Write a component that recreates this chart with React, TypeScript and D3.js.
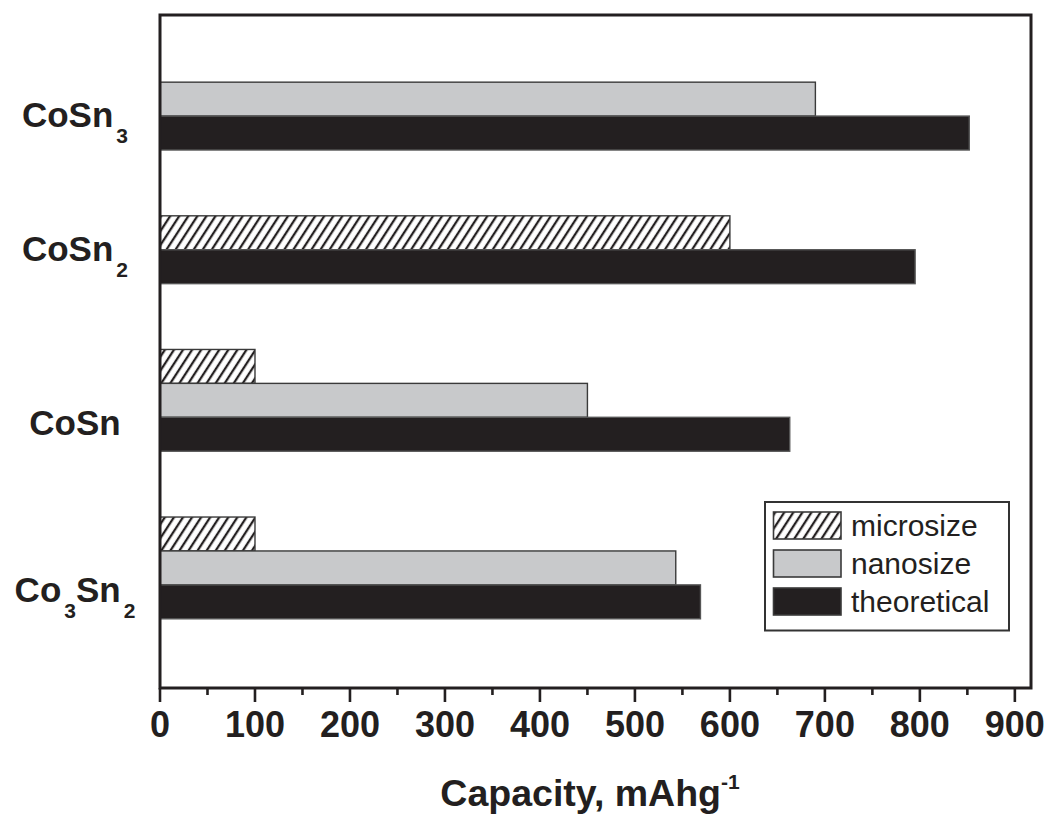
import * as React from 'react';
import * as d3 from 'd3';

const categories = ['CoSn3', 'CoSn2', 'CoSn', 'Co3Sn2'];
const seriesNames = ['microsize', 'nanosize', 'theoretical'];
const microsize = [null, 600, 100, 100];
const nanosize = [690, null, 450, 543];
const theoretical = [852, 795, 663, 569];
const xTicks = [0, 100, 200, 300, 400, 500, 600, 700, 800, 900];

const W = 1052;
const H = 816;
const margin = { left: 160, right: 1031, top: 15, bottom: 688 };
const ink = '#231f20';
const font = 'Liberation Sans, Arial, Helvetica, sans-serif';

// split a formula like Co3Sn2 into text runs, digits become subscripts
const formulaParts = (s) => s.match(/[A-Za-z]+|\d+/g).map((p) => ({ text: p, sub: /\d/.test(p) }));

const App = () => {
  const values = [microsize, nanosize, theoretical];
  const fills = ['url(#hatch)', '#c8c9cb', ink];

  const x = d3.scaleLinear().domain([0, 917]).range([margin.left, margin.right]);

  // layout in bar units: each bar is 1 unit, groups are separated by a gap
  const padTop = 1.98;
  const gap = 1.94;
  const padBottom = 2.04;
  let cursor = padTop;
  const bars = [];
  const labelPos = [];
  categories.forEach((c, ci) => {
    const present = seriesNames.map((s, si) => si).filter((si) => values[si][ci] != null);
    present.forEach((si) => {
      bars.push({ cat: c, si, value: values[si][ci], u: cursor });
      cursor += 1;
    });
    labelPos.push({ cat: c, u: cursor - 1 + (present.length > 2 ? 0.15 : -0.05) });
    if (ci < categories.length - 1) cursor += gap;
  });
  const total = cursor + padBottom;
  const y = d3.scaleLinear().domain([0, total]).range([margin.top, margin.bottom]);
  const bh = y(1) - y(0);

  const minor = d3.range(50, 917, 100);

  return (
    <svg width={W} height={H} style={{ position: 'absolute', left: 0, top: 0, background: '#fff' }}>
      <defs>
        <pattern id='hatch' patternUnits='userSpaceOnUse' width={7.6} height={7.6} patternTransform='rotate(33)'>
          <rect width={7.6} height={7.6} fill='#fff' />
          <line x1={2} y1={0} x2={2} y2={7.6} stroke={ink} strokeWidth={2.3} />
        </pattern>
      </defs>

      {bars.map((b, i) => (
        <rect
          key={i}
          x={x(0)}
          y={y(b.u)}
          width={x(b.value) - x(0)}
          height={bh}
          fill={fills[b.si]}
          stroke={b.si === 2 ? '#555' : '#3a3a3a'}
          strokeWidth={1.4}
        />
      ))}

      {/* frame */}
      <rect
        x={margin.left}
        y={margin.top}
        width={margin.right - margin.left}
        height={margin.bottom - margin.top}
        fill='none'
        stroke={ink}
        strokeWidth={3}
      />

      {/* x ticks */}
      {xTicks.map((t) => (
        <g key={t}>
          <line x1={x(t)} x2={x(t)} y1={margin.bottom} y2={margin.bottom + 14} stroke={ink} strokeWidth={2.6} />
          <text x={x(t)} y={737} textAnchor='middle' fontFamily={font} fontWeight='bold' fontSize={36} fill={ink}>
            {t}
          </text>
        </g>
      ))}
      {minor.map((t) => (
        <line key={t} x1={x(t)} x2={x(t)} y1={margin.bottom} y2={margin.bottom + 7} stroke={ink} strokeWidth={2.6} />
      ))}

      <text x={590} y={806} textAnchor='middle' fontFamily={font} fontWeight='bold' fontSize={37.5} fill={ink}>
        Capacity, mAhg
        <tspan fontSize={21} dy={-17}>-1</tspan>
      </text>

      {/* category labels */}
      {labelPos.map((l) => {
        const yc = y(l.u);
        let shifted = false;
        return (
          <text key={l.cat} x={75} y={yc + 12.5} textAnchor='middle' fontFamily={font} fontWeight='bold' fontSize={35} fill={ink}>
            {formulaParts(l.cat).map((p, i) => {
              let dy = 0;
              if (p.sub && !shifted) {
                dy = 16;
                shifted = true;
              } else if (!p.sub && shifted) {
                dy = -16;
                shifted = false;
              }
              return (
                <tspan key={i} dy={dy} dx={p.sub ? 3 : 0} fontSize={p.sub ? 21 : 35}>
                  {p.text}
                </tspan>
              );
            })}
          </text>
        );
      })}

      {/* legend */}
      <g>
        <rect x={765} y={502} width={244} height={128.5} fill='#fff' stroke='#333' strokeWidth={2} />
        {seriesNames.map((s, i) => {
          const top = 512 + i * 38;
          return (
            <g key={s}>
              <rect x={773.5} y={top} width={67.5} height={27} fill={fills[i]} stroke='#3a3a3a' strokeWidth={1.6} />
              <text x={851} y={top + 23.5} fontFamily={font} fontSize={30} fill={ink}>
                {s}
              </text>
            </g>
          );
        })}
      </g>
    </svg>
  );
};

export default App;
